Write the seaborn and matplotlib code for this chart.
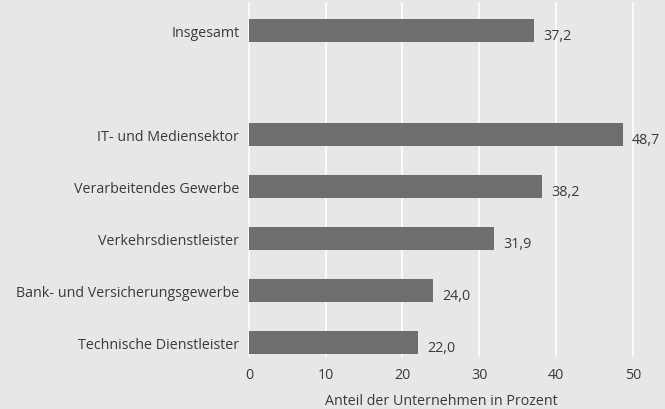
import matplotlib
matplotlib.use("Agg")
import matplotlib.pyplot as plt
import seaborn as sns
import pandas as pd

# ── data ──────────────────────────────────────────────
categories = [
    "Insgesamt",
    "IT- und Mediensektor",
    "Verarbeitendes Gewerbe",
    "Verkehrsdienstleister",
    "Bank- und Versicherungsgewerbe",
    "Technische Dienstleister",
]
values = [37.2, 48.7, 38.2, 31.9, 24.0, 22.0]
x_ticks = [0, 10, 20, 30, 40, 50]
x_label = "Anteil der Unternehmen in Prozent"

# blank slot between "Insgesamt" and the sectors
order = [categories[0], " "] + categories[1:]

df = pd.DataFrame({"Kategorie": categories, "Anteil": values})

# ── style ─────────────────────────────────────────────
bg = "#e6e7e8"
bar_col = "#6d6e70"
txt_col = "#3a3a3a"
fs = 10.3

sns.set_theme(style="white")
plt.rcParams["font.family"] = ["Open Sans", "DejaVu Sans"]

fig = plt.figure(figsize=(6.65, 4.10), dpi=100)
fig.patch.set_facecolor(bg)
ax = fig.add_axes([249 / 665, 1 - 357 / 410, (632.7 - 249) / 665, 353 / 410])
ax.set_facecolor(bg)

sns.barplot(data=df, x="Anteil", y="Kategorie", order=order, color=bar_col,
            saturation=1, width=0.44, orient="h", ax=ax, zorder=3,
            linewidth=0, edgecolor="none")

# value labels
for cat, val in zip(categories, values):
    pos = order.index(cat)
    ax.text(val + 1.2, pos + 0.1, f"{val:.1f}".replace(".", ","),
            va="center", ha="left", fontsize=fs, color=txt_col, clip_on=False)

ax.set_xlim(0, 50)
ax.set_ylim(6.26, -0.52)
ax.set_xticks(x_ticks)
ax.set_xticklabels([str(t) for t in x_ticks])
for t in x_ticks:
    ax.axvline(t, color="white", lw=1.2, zorder=1, clip_on=False)

ax.set_xlabel(x_label, fontsize=fs, color=txt_col, labelpad=8)
ax.set_ylabel("")
ax.tick_params(axis="both", length=0, labelsize=fs, colors=txt_col)
ax.tick_params(axis="y", pad=7)
ax.tick_params(axis="x", pad=8)
for s in ax.spines.values():
    s.set_visible(False)

fig.savefig("out.png", dpi=100, facecolor=bg)
